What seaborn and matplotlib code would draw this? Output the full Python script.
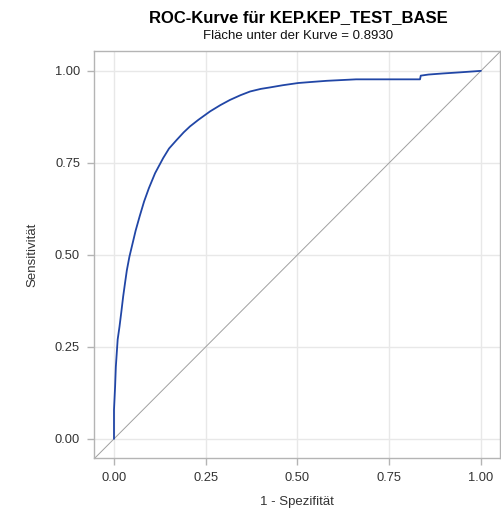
import matplotlib
matplotlib.use("Agg")
import matplotlib.pyplot as plt
import seaborn as sns
import pandas as pd

fpr = [0.0, 0.0, 0.003, 0.005, 0.010, 0.015, 0.020, 0.025, 0.030, 0.035, 0.042, 0.048,
       0.059, 0.070, 0.082, 0.095, 0.112, 0.134, 0.150, 0.171, 0.190, 0.207, 0.230,
       0.262, 0.290, 0.316, 0.345, 0.371, 0.400, 0.425, 0.460, 0.502, 0.540, 0.580,
       0.620, 0.660, 0.834, 0.836, 0.857, 0.897, 0.943, 1.0]
tpr = [0.0, 0.079, 0.142, 0.196, 0.270, 0.305, 0.345, 0.387, 0.423, 0.458, 0.495, 0.520,
       0.566, 0.605, 0.645, 0.681, 0.722, 0.763, 0.789, 0.8125, 0.833, 0.849, 0.867,
       0.890, 0.907, 0.921, 0.934, 0.944, 0.951, 0.955, 0.961, 0.967, 0.970, 0.973,
       0.975, 0.977, 0.977, 0.987, 0.990, 0.993, 0.996, 1.0]
ticks = [0.0, 0.25, 0.5, 0.75, 1.0]
tick_labels = ["0.00", "0.25", "0.50", "0.75", "1.00"]
title = "ROC-Kurve für KEP.KEP_TEST_BASE"
subtitle = "Fläche unter der Kurve = 0.8930"

sns.set_style("white")
plt.rcParams['font.family'] = ['Liberation Sans', 'DejaVu Sans']

fig = plt.figure(figsize=(5.01, 5.09), dpi=100)
ax = fig.add_axes([94/501, 1-458/509, (500-94)/501, (458-51)/509])

df = pd.DataFrame({"fpr": fpr, "tpr": tpr})
diag = pd.DataFrame({"x": [-0.2, 1.2], "y": [-0.2, 1.2]})
sns.lineplot(data=diag, x="x", y="y", ax=ax, color="#a0a0a0", linewidth=0.7,
             sort=False, estimator=None)
sns.lineplot(data=df, x="fpr", y="tpr", ax=ax, color="#2146a6", linewidth=1.3,
             sort=False, estimator=None)

ax.set_xlim(-0.0545, 1.052)
ax.set_ylim(-0.052, 1.054)
ax.set_xticks(ticks)
ax.set_xticklabels(tick_labels)
ax.set_yticks(ticks)
ax.set_yticklabels(tick_labels)
ax.grid(True, color="#e8e8e8", linewidth=1.0)
ax.set_axisbelow(True)
for s in ax.spines.values():
    s.set_color("#b4b4b4")
    s.set_linewidth(1.0)
ax.tick_params(axis="both", which="both", length=5, width=1, color="#b4b4b4",
               labelsize=9.3, labelcolor="#333333", pad=5, direction="out",
               bottom=True, left=True)
ax.set_xlabel("1 - Spezifität", fontsize=9.5, color="#333333", labelpad=9)
ax.set_ylabel("Sensitivität", fontsize=9.5, color="#333333", labelpad=12)

fig.text(298/501, 1-18/509, title, ha="center", va="center", fontsize=12,
         fontweight="bold", color="#000000")
fig.text(298/501, 1-36/509, subtitle, ha="center", va="center", fontsize=9.5,
         color="#111111")

fig.savefig("out.png", dpi=100)
